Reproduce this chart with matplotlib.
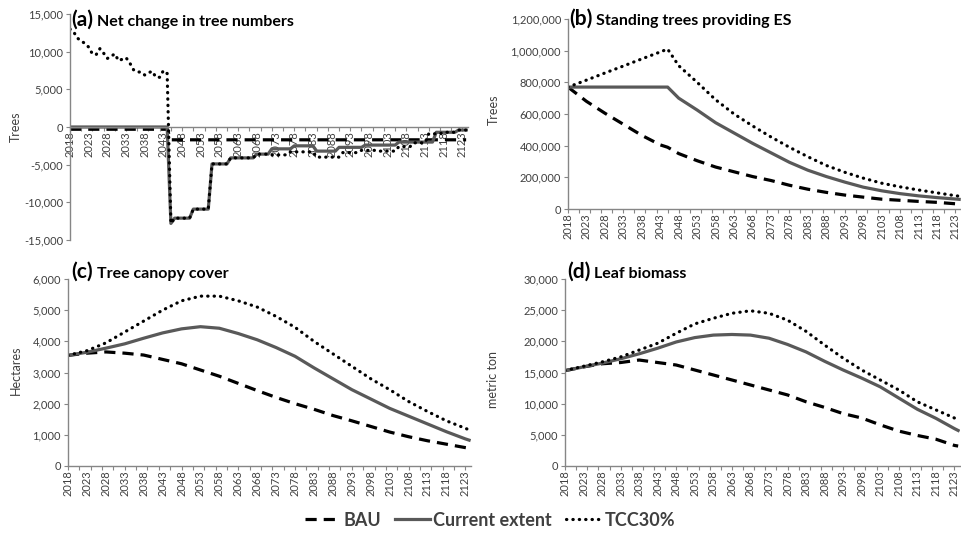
import matplotlib.pyplot as plt
from matplotlib.ticker import FuncFormatter
from matplotlib.lines import Line2D

plt.rcParams['font.family'] = ['Lato', 'DejaVu Sans']

# (a) net change in tree numbers, one value per year 2018-2124
years_a = list(range(2018, 2125))
bau_a = [
    -300, -300, -300, -300, -300, -300, -300, -300, -300, -300,
    -300, -300, -300, -300, -300, -300, -300, -300, -300, -300,
    -300, -300, -300, -300, -300, -300, -300, -1700, -1700, -1700,
    -1700, -1700, -1700, -1700, -1700, -1700, -1700, -1700, -1700, -1700,
    -1700, -1700, -1700, -1700, -1700, -1700, -1700, -1700, -1700, -1700,
    -1700, -1700, -1700, -1700, -1700, -1700, -1700, -1700, -1700, -1700,
    -1700, -1700, -1700, -1700, -1700, -1700, -1700, -1700, -1700, -1700,
    -1700, -1700, -1700, -1700, -1700, -1700, -1700, -1700, -1700, -1700,
    -1700, -1700, -1700, -1700, -1700, -1700, -1700, -1700, -1700, -1700,
    -1700, -1700, -1700, -1700, -1700, -1700, -1700, -1700, -1700, -1700,
    -1700, -1700, -1700, -1700, -1700, -1700, -1700,
]
cur_a = [
    0, 0, 0, 0, 0, 0, 0, 0, 0, 0,
    0, 0, 0, 0, 0, 0, 0, 0, 0, 0,
    0, 0, 0, 0, 0, 0, 0, -12800, -12100, -12100,
    -12100, -12100, -12100, -10900, -10900, -10900, -10900, -10900, -4900, -4900,
    -4900, -4900, -4900, -4100, -4100, -4100, -4100, -4100, -4100, -4100,
    -3600, -3600, -3600, -3600, -2900, -2900, -2900, -2900, -2900, -2900,
    -2500, -2500, -2500, -2500, -2500, -2500, -3200, -3200, -3200, -3200,
    -3200, -3200, -2700, -2700, -2700, -2700, -2700, -2700, -2700, -2400,
    -2400, -2400, -2400, -2400, -2400, -2400, -2400, -2400, -2000, -2000,
    -2000, -2000, -2000, -2000, -2000, -2000, -2000, -2000, -700, -700,
    -700, -700, -700, -700, -400, -400, -400,
]
tcc_a = [
    13000, 12600, 11800, 11400, 11100, 10600, 9700, 9600, 10400, 9800,
    9100, 9400, 9700, 8800, 9000, 9200, 8500, 7600, 7300, 7300,
    6900, 7200, 7400, 6600, 6600, 7500, 7100, -12800, -12100, -12100,
    -12100, -12100, -12100, -10900, -10900, -10900, -10900, -10900, -4900, -4900,
    -4900, -4900, -4900, -4100, -4100, -4100, -4100, -4100, -4100, -4100,
    -3600, -3600, -3600, -3600, -3700, -3700, -3700, -3700, -3700, -3300,
    -3300, -3300, -3300, -3300, -3300, -3300, -4000, -4000, -4000, -4000,
    -4000, -4000, -4000, -3400, -3400, -3400, -3400, -3400, -3100, -3100,
    -3100, -3100, -3100, -3200, -3200, -3200, -3200, -3200, -2600, -2600,
    -2600, -2600, -2100, -2100, -2100, -2100, -900, -900, -900, -900,
    -700, -700, -700, -700, -400, -400, -400,
]

# (b) standing trees providing ES
years_b = [2018, 2023, 2028, 2033, 2038, 2043, 2045, 2048, 2053, 2058, 2063, 2068,
           2073, 2078, 2083, 2088, 2093, 2098, 2103, 2108, 2113, 2118, 2123, 2124]
bau_b = [770000, 680000, 605000, 535000, 465000, 405000, 390000, 350000, 305000, 265000,
         235000, 205000, 180000, 150000, 125000, 105000, 88000, 75000, 62000, 55000,
         48000, 42000, 33000, 31000]
cur_b = [770000, 770000, 770000, 770000, 770000, 770000, 770000, 700000, 625000, 545000,
         480000, 415000, 355000, 295000, 245000, 205000, 170000, 138000, 115000, 97000,
         83000, 72000, 63000, 61000]
tcc_b = [770000, 814000, 859000, 903000, 948000, 992000, 1010000, 905000, 800000, 690000,
         600000, 525000, 455000, 390000, 330000, 275000, 232000, 195000, 163000, 140000,
         120000, 102000, 84000, 81000]

# (c) tree canopy cover and (d) leaf biomass
years_cd = [2018, 2023, 2028, 2033, 2038, 2043, 2048, 2053, 2058, 2063, 2068, 2073,
            2078, 2083, 2088, 2093, 2098, 2103, 2108, 2113, 2118, 2123, 2124]
bau_c = [3550, 3620, 3660, 3620, 3560, 3420, 3280, 3080, 2880, 2650, 2420, 2200,
         2000, 1820, 1620, 1450, 1270, 1090, 940, 810, 700, 590, 570]
cur_c = [3550, 3650, 3780, 3920, 4100, 4270, 4400, 4470, 4420, 4250, 4050, 3800,
         3520, 3150, 2800, 2450, 2150, 1850, 1600, 1350, 1100, 870, 830]
tcc_c = [3550, 3700, 3950, 4300, 4650, 5000, 5300, 5450, 5450, 5300, 5100, 4800,
         4450, 4000, 3600, 3200, 2800, 2450, 2070, 1750, 1450, 1210, 1160]

bau_d = [15300, 15900, 16400, 16600, 17000, 16600, 16200, 15400, 14600, 13800, 13000, 12200,
         11400, 10300, 9400, 8400, 7700, 6600, 5600, 4900, 4300, 3300, 3200]
cur_d = [15300, 15900, 16500, 17200, 18000, 18900, 19900, 20600, 21000, 21100, 21000, 20500,
         19500, 18300, 16800, 15400, 14100, 12700, 10900, 9100, 7650, 6000, 5700]
tcc_d = [15300, 16000, 16700, 17500, 18600, 19700, 21300, 22800, 23700, 24500, 24900, 24500,
         23400, 21600, 19400, 17300, 15400, 13800, 12200, 10300, 9000, 7700, 7500]

year_labels = list(range(2018, 2124, 5))
tick_marks = list(range(2018, 2125, 3))

bau_style = dict(color='black', lw=2.3, linestyle=(0, (3.5, 2.2)))
cur_style = dict(color='#595959', lw=2.3)
tcc_style = dict(color='black', lw=2.3, linestyle=(0, (0.1, 1.9)), dash_capstyle='round')

txt_col = '#404040'
axis_col = '#868686'
W, H = 961, 540

fig = plt.figure(figsize=(9.61, 5.40), dpi=100)


def make_ax(left, right, top, bottom):
    return fig.add_axes([left / W, 1 - bottom / H, (right - left) / W, (bottom - top) / H])


def style_ax(ax, ylim, ystep):
    ax.set_xlim(2018, 2124.5)
    ax.set_ylim(*ylim)
    ax.set_yticks(list(range(ylim[0], ylim[1] + 1, ystep)))
    ax.yaxis.set_major_formatter(FuncFormatter(lambda v, p: f'{v:,.0f}'))
    # labels every 5 years, tick marks every 3 years
    ax.set_xticks(year_labels)
    ax.set_xticklabels([str(y) for y in year_labels], rotation=90)
    ax.set_xticks(tick_marks, minor=True)
    ax.xaxis.remove_overlapping_locs = False
    ax.tick_params(axis='x', which='minor', direction='out', length=3, color=axis_col, width=0.8)
    ax.tick_params(axis='x', which='major', length=0, pad=3, labelsize=8, labelcolor=txt_col)
    ax.tick_params(axis='y', direction='out', length=3, color=axis_col, width=0.8,
                   labelsize=8, labelcolor=txt_col, pad=2)
    for s in ['top', 'right']:
        ax.spines[s].set_visible(False)
    for s in ['left', 'bottom']:
        ax.spines[s].set_color(axis_col)
        ax.spines[s].set_linewidth(1.0)


titles = []


def title(x_lab, y, lab, txt):
    t1 = fig.text(x_lab / W, 1 - y / H, lab, fontsize=15, fontweight='bold', color='black', va='baseline')
    t2 = fig.text(0, 1 - y / H, txt, fontsize=11.5, fontweight='bold', color='black', va='baseline')
    titles.append((t1, t2))


def ylab(x, y, txt):
    fig.text(x / W, 1 - y / H, txt, rotation=90, ha='center', va='center', fontsize=9, color=txt_col)


# (a)
ax = make_ax(70, 468, 14, 240)
ax.spines['bottom'].set_position(('data', 0))
ax.plot(years_a, bau_a, **bau_style)
ax.plot(years_a, cur_a, **cur_style)
ax.plot(years_a, tcc_a, **tcc_style)
style_ax(ax, (-15000, 15000), 5000)
title(71, 26, '(a)', 'Net change in tree numbers')
ylab(16, 127, 'Trees')

# (b)
ax = make_ax(568, 961, 19, 209)
ax.plot(years_b, bau_b, **bau_style)
ax.plot(years_b, cur_b, **cur_style)
ax.plot(years_b, tcc_b, **tcc_style)
style_ax(ax, (0, 1200000), 200000)
title(569, 25, '(b)', 'Standing trees providing ES')
ylab(494, 110, 'Trees')

# (c)
ax = make_ax(68, 471, 279, 466)
ax.plot(years_cd, bau_c, **bau_style)
ax.plot(years_cd, cur_c, **cur_style)
ax.plot(years_cd, tcc_c, **tcc_style)
style_ax(ax, (0, 6000), 1000)
title(71, 278, '(c)', 'Tree canopy cover')
ylab(16, 370, 'Hectares')

# (d)
ax = make_ax(565, 960, 279, 466)
ax.plot(years_cd, bau_d, **bau_style)
ax.plot(years_cd, cur_d, **cur_style)
ax.plot(years_cd, tcc_d, **tcc_style)
style_ax(ax, (0, 30000), 5000)
title(567, 278, '(d)', 'Leaf biomass')
ylab(493, 380, 'metric ton')

handles = [Line2D([], [], **bau_style), Line2D([], [], **cur_style), Line2D([], [], **tcc_style)]
leg = fig.legend(handles, ['BAU', 'Current extent', 'TCC30%'], loc='center',
                 bbox_to_anchor=(0.51, 0.037), ncol=3, frameon=False, handlelength=1.9,
                 handletextpad=0.2, columnspacing=0.8, prop={'weight': 'bold', 'size': 13})
for t in leg.get_texts():
    t.set_color(txt_col)

# put the title words right after the panel letter
fig.canvas.draw()
r = fig.canvas.get_renderer()
for t1, t2 in titles:
    bb = t1.get_window_extent(r)
    t2.set_x((bb.x1 + 4) / W)

fig.savefig('out.png', dpi=100)
